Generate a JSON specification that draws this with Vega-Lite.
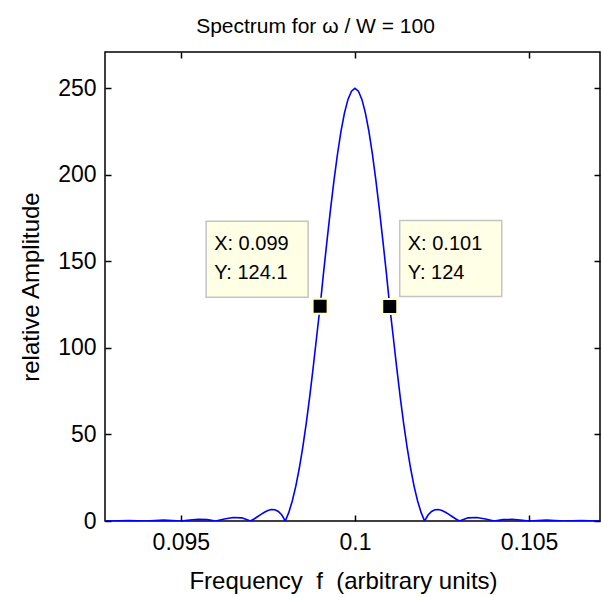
{
  "$schema": "https://vega.github.io/schema/vega-lite/v6.json",
  "width": 495,
  "height": 469,
  "autosize": {"type": "none"},
  "padding": {"left": 105, "top": 52, "right": 1, "bottom": 76},
  "background": "white",
  "config": {
    "font": "Liberation Sans",
    "view": {"stroke": "black", "strokeWidth": 1.5},
    "axis": {
      "domain": false,
      "grid": false,
      "tickColor": "black",
      "tickSize": -6,
      "tickWidth": 1.5,
      "labelColor": "black",
      "titleColor": "black",
      "labelFont": "Liberation Sans",
      "titleFont": "Liberation Sans",
      "labelFontSize": 23,
      "titleFontSize": 24,
      "titleFontWeight": "normal"
    }
  },
  "title": {
    "text": "Spectrum for ω / W = 100",
    "fontSize": 21,
    "fontWeight": "normal",
    "font": "Liberation Sans",
    "color": "black",
    "offset": 14,
    "dx": -37
  },
  "datasets": {
    "curve": [
      {"f": 0.0928, "a": 0.13},
      {"f": 0.093, "a": 0},
      {"f": 0.0935, "a": 0.3},
      {"f": 0.094, "a": 0},
      {"f": 0.0945, "a": 0.49},
      {"f": 0.095, "a": 0},
      {"f": 0.09525, "a": 0.55},
      {"f": 0.0955, "a": 0.92},
      {"f": 0.09575, "a": 0.78},
      {"f": 0.096, "a": 0},
      {"f": 0.09625, "a": 1.15},
      {"f": 0.0965, "a": 2.02},
      {"f": 0.09675, "a": 1.81},
      {"f": 0.097, "a": 0},
      {"f": 0.0971, "a": 1.14},
      {"f": 0.0972, "a": 2.44},
      {"f": 0.0973, "a": 3.79},
      {"f": 0.0974, "a": 5.05},
      {"f": 0.0975, "a": 6.06},
      {"f": 0.0976, "a": 6.62},
      {"f": 0.0977, "a": 6.52},
      {"f": 0.0978, "a": 5.54},
      {"f": 0.0979, "a": 3.43},
      {"f": 0.098, "a": 0},
      {"f": 0.0981, "a": 4.96},
      {"f": 0.0982, "a": 11.6},
      {"f": 0.0983, "a": 20.04},
      {"f": 0.0984, "a": 30.32},
      {"f": 0.0985, "a": 42.44},
      {"f": 0.0986, "a": 56.31},
      {"f": 0.0987, "a": 71.77},
      {"f": 0.0988, "a": 88.59},
      {"f": 0.0989, "a": 106.45},
      {"f": 0.099, "a": 124.1},
      {"f": 0.0991, "a": 143.81},
      {"f": 0.0992, "a": 162.41},
      {"f": 0.0993, "a": 180.33},
      {"f": 0.0994, "a": 197.09},
      {"f": 0.0995, "a": 212.21},
      {"f": 0.0996, "a": 225.25},
      {"f": 0.0997, "a": 235.82},
      {"f": 0.0998, "a": 243.62},
      {"f": 0.0999, "a": 248.39},
      {"f": 0.1, "a": 250},
      {"f": 0.1001, "a": 248.39},
      {"f": 0.1002, "a": 243.62},
      {"f": 0.1003, "a": 235.82},
      {"f": 0.1004, "a": 225.25},
      {"f": 0.1005, "a": 212.21},
      {"f": 0.1006, "a": 197.09},
      {"f": 0.1007, "a": 180.33},
      {"f": 0.1008, "a": 162.41},
      {"f": 0.1009, "a": 143.81},
      {"f": 0.101, "a": 124},
      {"f": 0.1011, "a": 106.45},
      {"f": 0.1012, "a": 88.59},
      {"f": 0.1013, "a": 71.77},
      {"f": 0.1014, "a": 56.31},
      {"f": 0.1015, "a": 42.44},
      {"f": 0.1016, "a": 30.32},
      {"f": 0.1017, "a": 20.04},
      {"f": 0.1018, "a": 11.6},
      {"f": 0.1019, "a": 4.96},
      {"f": 0.102, "a": 0},
      {"f": 0.1021, "a": 3.43},
      {"f": 0.1022, "a": 5.54},
      {"f": 0.1023, "a": 6.52},
      {"f": 0.1024, "a": 6.62},
      {"f": 0.1025, "a": 6.06},
      {"f": 0.1026, "a": 5.05},
      {"f": 0.1027, "a": 3.79},
      {"f": 0.1028, "a": 2.44},
      {"f": 0.1029, "a": 1.14},
      {"f": 0.103, "a": 0},
      {"f": 0.10325, "a": 1.81},
      {"f": 0.1035, "a": 2.02},
      {"f": 0.10375, "a": 1.15},
      {"f": 0.104, "a": 0},
      {"f": 0.10425, "a": 0.78},
      {"f": 0.1045, "a": 0.92},
      {"f": 0.10475, "a": 0.55},
      {"f": 0.105, "a": 0},
      {"f": 0.1055, "a": 0.49},
      {"f": 0.106, "a": 0},
      {"f": 0.1065, "a": 0.3},
      {"f": 0.107, "a": 0},
      {"f": 0.1072, "a": 0.13}
    ],
    "tips": [
      {"f": 0.099, "a": 124.1, "label": "X: 0.099\nY: 124.1", "side": "L"},
      {"f": 0.101, "a": 124, "label": "X: 0.101\nY: 124", "side": "R"}
    ]
  },
  "layer": [
    {
      "data": {"name": "curve"},
      "mark": {"type": "line", "color": "#0000ff", "strokeWidth": 1.6, "clip": true},
      "encoding": {
        "x": {
          "field": "f", "type": "quantitative",
          "scale": {"domain": [0.09282, 0.10704], "nice": false, "zero": false},
          "axis": {"orient": "bottom", "values": [0.095, 0.1, 0.105], "format": "~g",
                   "title": "Frequency\u00a0\u00a0f\u00a0\u00a0(arbitrary units)", "labelPadding": 16, "titlePadding": 15, "titleX": 238}
        },
        "y": {
          "field": "a", "type": "quantitative",
          "scale": {"domain": [0, 271], "nice": false, "zero": false},
          "axis": {"orient": "left", "values": [0, 50, 100, 150, 200, 250],
                   "title": "relative Amplitude", "labelPadding": 15, "titlePadding": 14}
        }
      }
    },
    {
      "data": {"name": "tips"},
      "mark": {"type": "point", "shape": "square", "filled": true, "fill": "black", "stroke": "#ffffcc", "strokeWidth": 2, "size": 225, "opacity": 1},
      "encoding": {
        "x": {
          "field": "f", "type": "quantitative",
          "scale": {"domain": [0.09282, 0.10704], "nice": false, "zero": false},
          "axis": {"orient": "top", "values": [0.095, 0.1, 0.105], "labels": false, "title": null}
        },
        "y": {
          "field": "a", "type": "quantitative",
          "scale": {"domain": [0, 271], "nice": false, "zero": false},
          "axis": {"orient": "right", "values": [0, 50, 100, 150, 200, 250], "labels": false, "title": null}
        }
      }
    },
    {
      "data": {"name": "tips"},
      "transform": [{"filter": "datum.side == 'L'"}],
      "mark": {"type": "point", "shape": "M-1,-0.745H1V0.745H-1Z", "filled": true, "fill": "#ffffe6", "stroke": "#c4c4c4", "strokeWidth": 1.5, "size": 10404, "opacity": 1, "xOffset": -63, "yOffset": -47},
      "encoding": {
        "x": {"field": "f", "type": "quantitative", "scale": {"domain": [0.09282, 0.10704], "nice": false, "zero": false}, "axis": null},
        "y": {"field": "a", "type": "quantitative", "scale": {"domain": [0, 271], "nice": false, "zero": false}, "axis": null}
      }
    },
    {
      "data": {"name": "tips"},
      "transform": [{"filter": "datum.side == 'R'"}],
      "mark": {"type": "point", "shape": "M-1,-0.745H1V0.745H-1Z", "filled": true, "fill": "#ffffe6", "stroke": "#c4c4c4", "strokeWidth": 1.5, "size": 10404, "opacity": 1, "xOffset": 61, "yOffset": -48},
      "encoding": {
        "x": {"field": "f", "type": "quantitative", "scale": {"domain": [0.09282, 0.10704], "nice": false, "zero": false}, "axis": null},
        "y": {"field": "a", "type": "quantitative", "scale": {"domain": [0, 271], "nice": false, "zero": false}, "axis": null}
      }
    },
    {
      "data": {"name": "tips"},
      "transform": [{"filter": "datum.side == 'L'"}],
      "mark": {"type": "text", "align": "left", "baseline": "alphabetic", "lineBreak": "\n", "lineHeight": 29, "fontSize": 20, "font": "Liberation Sans", "color": "black", "dx": -106, "dy": -56},
      "encoding": {
        "x": {"field": "f", "type": "quantitative", "scale": {"domain": [0.09282, 0.10704], "nice": false, "zero": false}, "axis": null},
        "y": {"field": "a", "type": "quantitative", "scale": {"domain": [0, 271], "nice": false, "zero": false}, "axis": null},
        "text": {"field": "label"}
      }
    },
    {
      "data": {"name": "tips"},
      "transform": [{"filter": "datum.side == 'R'"}],
      "mark": {"type": "text", "align": "left", "baseline": "alphabetic", "lineBreak": "\n", "lineHeight": 29, "fontSize": 20, "font": "Liberation Sans", "color": "black", "dx": 18, "dy": -56},
      "encoding": {
        "x": {"field": "f", "type": "quantitative", "scale": {"domain": [0.09282, 0.10704], "nice": false, "zero": false}, "axis": null},
        "y": {"field": "a", "type": "quantitative", "scale": {"domain": [0, 271], "nice": false, "zero": false}, "axis": null},
        "text": {"field": "label"}
      }
    }
  ],
  "resolve": {"axis": {"x": "independent", "y": "independent"}}
}
